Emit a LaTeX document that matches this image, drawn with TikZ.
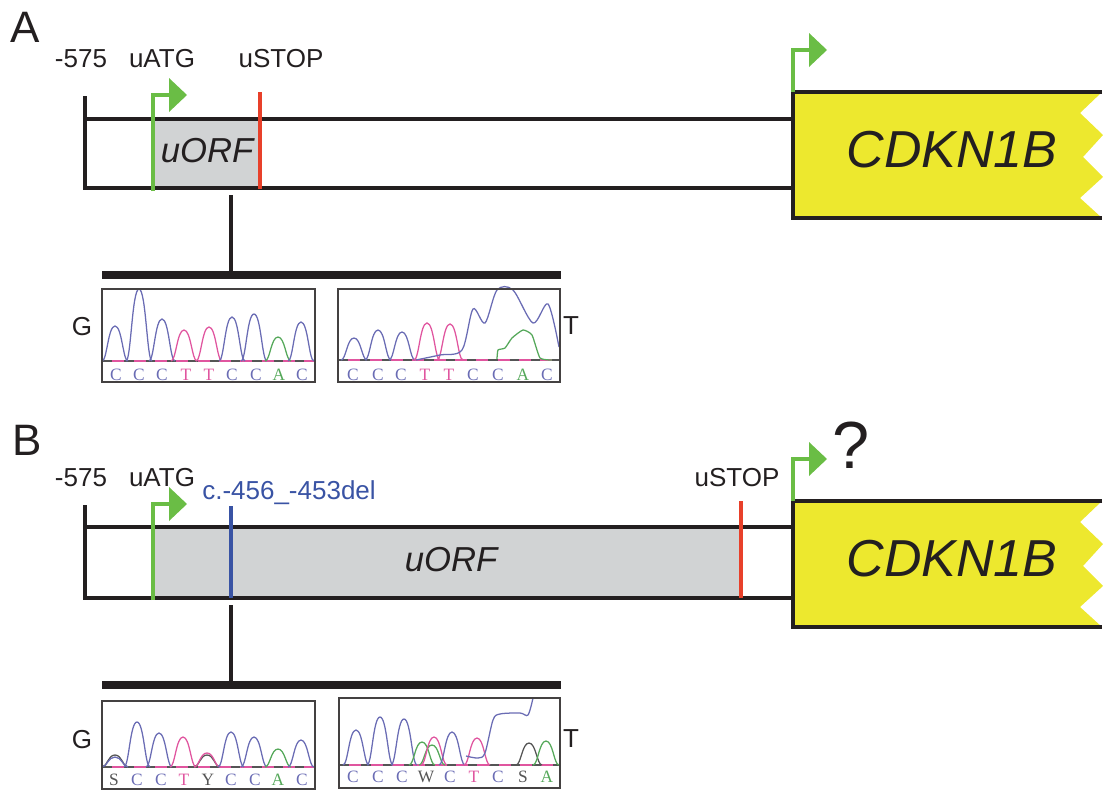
\documentclass[tikz,border=0pt]{standalone}
\usepackage{fontspec}
\setmainfont{Liberation Sans}
\newfontfamily\seqfont{Liberation Serif}
\definecolor{geneyellow}{HTML}{EDE82E}
\definecolor{startgreen}{HTML}{6ABD45}
\definecolor{stopred}{HTML}{E8402A}
\definecolor{orfgrey}{HTML}{D1D3D4}
\definecolor{delblue}{HTML}{3953A4}
\definecolor{inkblack}{HTML}{231F20}
\definecolor{traceC}{HTML}{6A6CB4}
\definecolor{traceT}{HTML}{E0559F}
\definecolor{traceA}{HTML}{55A85A}
\definecolor{traceN}{HTML}{555555}
\tikzset{
    lbl/.style={inner sep=0pt,text=inkblack,font=\fontsize{19.5}{20}\selectfont},
    panellbl/.style={inner sep=0pt,text=inkblack,font=\fontsize{33}{34}\selectfont},
    genelbl/.style={inner sep=0pt,text=inkblack,font=\fontsize{39}{40}\selectfont\itshape},
    orflbl/.style={inner sep=0pt,text=inkblack,font=\fontsize{26}{27}\selectfont\itshape},
    seqlbl/.style={inner sep=0pt,font=\fontsize{13}{14}\seqfont\selectfont},
    rail/.style={inkblack,line width=3pt},
    bar/.style={inkblack,line width=5.5pt},
    startline/.style={startgreen,line width=2.4pt},
    stopline/.style={stopred,line width=2.4pt},
    tracebox/.style={draw=inkblack!85,line width=1.5pt},
    trace/.style={line width=0.95pt},
}
% bent arrow: #1 = foot, #2 = corner
\newcommand{\startarrow}[2]{
    \draw[startline] (#1) -- (#2) -- ++(20,0);
    \fill[startgreen] ($(#2)+(16,-17)$) -- ($(#2)+(34,0)$) -- ($(#2)+(16,17)$) -- cycle;
}
% yellow gene block, #1 = vertical shift
\newcommand{\geneblock}[2]{
    \begin{scope}[shift={(0,#1)}]
        \fill[geneyellow] (793,92) -- (1102,92) -- (1080,113) -- (1103,135) -- (1083,157)
            -- (1103,177) -- (1080,198) -- (1102,218) -- (793,218) -- cycle;
        \draw[rail,line cap=butt] (1102,92) -- (793,92) -- (793,218) -- (1102,218);
        \node[genelbl] (#2) at (952,150) {CDKN1B};
    \end{scope}
}
% peaks, list of x/top/colour, #1 = baseline
\newcommand{\peaks}[2]{
    \foreach \px/\py/\pc in {#2}
        \draw[trace,\pc] (\px-13,#1) .. controls (\px-8,#1) and (\px-7,\py) .. (\px,\py)
            .. controls (\px+7,\py) and (\px+8,#1) .. (\px+13,#1);
}
% base line under the peaks, #1 = y, #2 = left, #3 = right
\newcommand{\baseln}[3]{
    \draw[trace,traceT,line width=1pt] (#2,#1) -- (#3,#1);
    \draw[trace,traceN,dash pattern=on 7pt off 9pt,line width=1pt] (#2,#1) -- (#3,#1);
}
\newcommand{\seqrow}[2]{
    \foreach \sx/\sl/\pc in {#2}
        \node[seqlbl,text=\pc] at (\sx,#1) {\sl};
}
\usetikzlibrary{calc}
\begin{document}
\begin{tikzpicture}[x=0.75pt,y=-0.75pt]
    \useasboundingbox (0,0) rectangle (1115,800);

    % panel A
    \node[panellbl] (A) at (25,27) {A};
    \node[lbl] (Apos) at (81,59) {-575};
    \node[lbl] (Aatg) at (162,59) {uATG};
    \node[lbl] (Astop) at (281,59) {uSTOP};
    \coordinate (Atl) at (85,119);
    \coordinate (Abl) at (85,188);
    \fill[orfgrey] (153,119) rectangle (260,188);
    \node[orflbl] (Aorf) at (207,151) {uORF};
    \geneblock{0}{Agene}
    \draw[rail] (85,96) -- (Abl) -- (793,188);
    \draw[rail] (Atl) -- (793,119);
    \startarrow{153,191}{153,95}
    \startarrow{793,92}{793,50}
    \draw[stopline] (260,92) -- (260,189);
    \coordinate (Astem) at (231,195);
    \coordinate (Abar) at (231,272);
    \draw[rail] (Astem) -- (Abar);
    \draw[bar] (102,275) -- (561,275);

    \node[lbl] (Ag) at (82,327) {G};
    \node[lbl] (At) at (571,326) {T};
    \baseln{361}{103}{314}
    \peaks{361}{115/326/traceC,139/289/traceC,162/319/traceC,184/330/traceT,209/327/traceT,232/317/traceC,254/314/traceC,278/337/traceA,301/322/traceC}
    \seqrow{375}{116/C/traceC,139/C/traceC,162/C/traceC,186/T/traceT,209/T/traceT,232/C/traceC,256/C/traceC,279/A/traceA,302/C/traceC}
    \draw[tracebox] (102,289) rectangle (315,382);

    \baseln{360}{339}{559}
    \peaks{360}{354/338/traceC,378/330/traceC,402/332/traceC,427/323/traceT,450/324/traceT}
    \draw[trace,traceC] plot[smooth,tension=0.5] coordinates {(416,360) (440,355) (462,350) (473,309) (485,323) (497,290) (513,290) (533,323) (548,304) (559,347)};
    \draw[trace,traceA] plot[smooth,tension=0.3] coordinates {(497,359) (498,350) (505,348) (512,338) (523,330) (532,335) (540,358) (552,360)};
    \seqrow{375}{353/C/traceC,378/C/traceC,401/C/traceC,425/T/traceT,449/T/traceT,473/C/traceC,498/C/traceC,523/A/traceA,547/C/traceC}
    \draw[tracebox] (338,289) rectangle (560,382);

    % panel B
    \node[panellbl] (B) at (27,440) {B};
    \node[lbl] (Bpos) at (81,478) {-575};
    \node[lbl] (Batg) at (162,478) {uATG};
    \node[lbl] (Bstop) at (737,478) {uSTOP};
    \node[lbl,text=delblue,font=\fontsize{19.5}{20}\selectfont] (Bdel) at (289,493) {c.-456\_-453del};
    \node[inner sep=0pt,text=inkblack,font=\fontsize{50}{51}\selectfont] (Bq) at (851,445) {?};
    \coordinate (Btl) at (85,527);
    \coordinate (Bbl) at (85,598);
    \fill[orfgrey] (153,527) rectangle (741,598);
    \node[orflbl] (Borf) at (451,560) {uORF};
    \geneblock{409}{Bgene}
    \draw[rail] (85,505) -- (Bbl) -- (793,598);
    \draw[rail] (Btl) -- (793,527);
    \startarrow{153,600}{153,504}
    \startarrow{793,501}{793,459}
    \draw[delblue,line width=2.4pt] (231,506) -- (231,598);
    \draw[stopline] (741,501) -- (741,598);
    \coordinate (Bstem) at (231,605);
    \coordinate (Bbar) at (231,682);
    \draw[rail] (Bstem) -- (Bbar);
    \draw[bar] (102,685) -- (561,685);

    \node[lbl] (Bg) at (82,740) {G};
    \node[lbl] (Bt) at (571,739) {T};
    \baseln{767}{103}{314}
    \peaks{767}{115/755/traceN,115/757/traceC,137/722/traceC,159/733/traceC,183/737/traceT,207/755/traceN,207/753/traceT,231/732/traceC,254/737/traceC,278/749/traceA,301/740/traceC}
    \seqrow{780}{114/S/traceN,137/C/traceC,161/C/traceC,184/T/traceT,208/Y/traceN,231/C/traceC,255/C/traceC,278/A/traceA,302/C/traceC}
    \draw[tracebox] (102,701) rectangle (315,789);

    \baseln{765}{340}{559}
    \peaks{765}{356/730/traceC,380/717/traceC,404/719/traceC,422/742/traceA,432/745/traceA,434/737/traceT,452/732/traceC,477/738/traceT,529/743/traceN,546/741/traceA}
    \draw[trace,traceC] plot[smooth,tension=0.5] coordinates {(466,756) (478,758) (485,753) (493,720) (500,714) (520,713) (528,715) (533,698)};
    \seqrow{777}{353/C/traceC,378/C/traceC,402/C/traceC,426/W/traceN,450/C/traceC,474/T/traceT,498/C/traceC,523/S/traceN,547/A/traceA}
    \draw[tracebox] (339,698) rectangle (560,788);
\end{tikzpicture}
\end{document}
